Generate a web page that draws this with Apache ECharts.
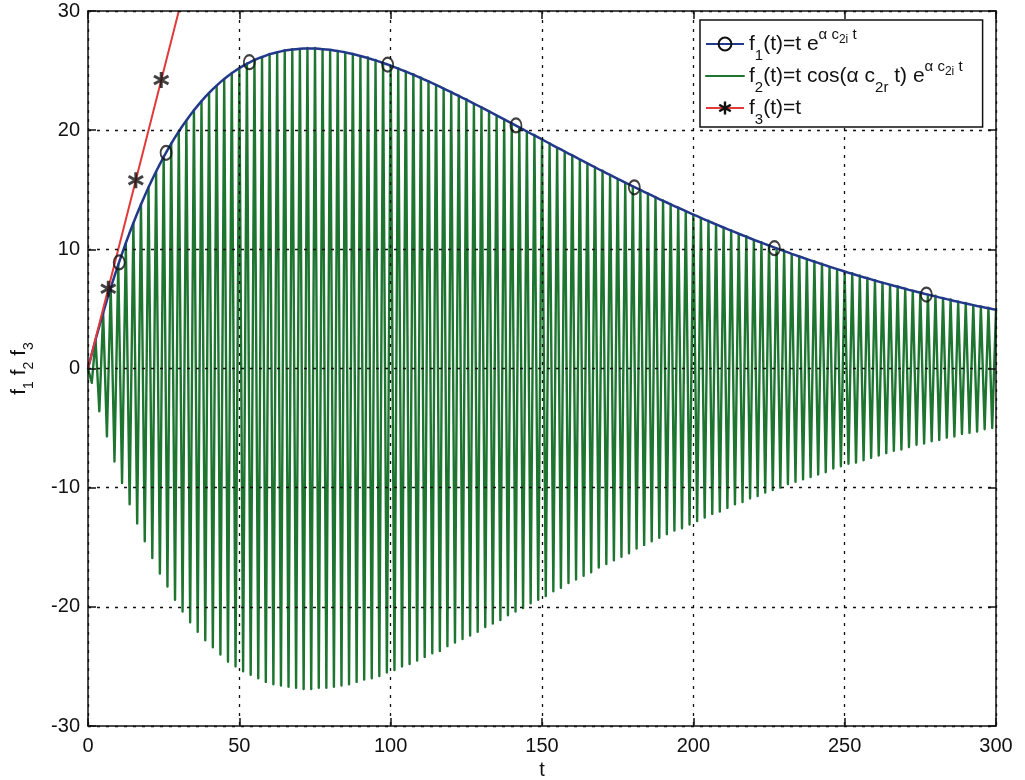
<!DOCTYPE html>
<html>
<head>
<meta charset="utf-8">
<title>f1, f2, f3 versus t</title>
<script src="https://cdn.jsdelivr.net/npm/echarts@6.0.0/dist/echarts.min.js"></script>
<style>
  html, body { margin: 0; padding: 0; background: #fff; }
  #chart { width: 1025px; height: 780px; }
</style>
</head>
<body>
<div id="chart"></div>
<script>
// Sampling step of the t grid used by the two traced curves.
const T_STEP = 1.25;

// f1(t): the decaying envelope, one value per grid step (t = 0 .. 300).
const envelopeValues = [
  0, 1.23, 2.42, 3.56, 4.67, 5.74, 6.77, 7.76, 8.72, 9.64,
  10.53, 11.39, 12.21, 13.01, 13.77, 14.50, 15.21, 15.88, 16.53, 17.15,
  17.75, 18.32, 18.87, 19.39, 19.89, 20.37, 20.82, 21.26, 21.67, 22.06,
  22.44, 22.79, 23.13, 23.44, 23.74, 24.03, 24.29, 24.55, 24.78, 25.00,
  25.21, 25.39, 25.57, 25.73, 25.89, 26.02, 26.14, 26.26, 26.38, 26.46,
  26.54, 26.61, 26.68, 26.73, 26.77, 26.80, 26.83, 26.85, 26.85, 26.85,
  26.85, 26.83, 26.80, 26.77, 26.74, 26.69, 26.64, 26.59, 26.53, 26.46,
  26.39, 26.31, 26.23, 26.14, 26.05, 25.95, 25.86, 25.75, 25.64, 25.53,
  25.41, 25.29, 25.17, 25.04, 24.92, 24.78, 24.65, 24.51, 24.38, 24.23,
  24.09, 23.94, 23.80, 23.65, 23.49, 23.34, 23.19, 23.03, 22.87, 22.71,
  22.56, 22.39, 22.23, 22.07, 21.91, 21.74, 21.57, 21.41, 21.24, 21.07,
  20.91, 20.74, 20.57, 20.40, 20.23, 20.06, 19.89, 19.72, 19.56, 19.39,
  19.22, 19.05, 18.88, 18.71, 18.54, 18.38, 18.21, 18.04, 17.88, 17.71,
  17.54, 17.38, 17.21, 17.05, 16.89, 16.72, 16.56, 16.40, 16.24, 16.08,
  15.92, 15.76, 15.60, 15.45, 15.29, 15.14, 14.98, 14.83, 14.67, 14.52,
  14.37, 14.22, 14.07, 13.93, 13.78, 13.63, 13.49, 13.35, 13.20, 13.06,
  12.92, 12.78, 12.64, 12.50, 12.36, 12.23, 12.10, 11.96, 11.83, 11.70,
  11.57, 11.44, 11.31, 11.18, 11.06, 10.93, 10.80, 10.68, 10.56, 10.44,
  10.32, 10.20, 10.08, 9.97, 9.85, 9.74, 9.62, 9.51, 9.40, 9.29,
  9.18, 9.07, 8.96, 8.86, 8.75, 8.65, 8.54, 8.44, 8.34, 8.24,
  8.14, 8.04, 7.95, 7.85, 7.75, 7.66, 7.57, 7.48, 7.38, 7.29,
  7.20, 7.12, 7.03, 6.94, 6.86, 6.77, 6.69, 6.60, 6.52, 6.44,
  6.36, 6.28, 6.20, 6.12, 6.05, 5.97, 5.90, 5.82, 5.75, 5.67,
  5.60, 5.53, 5.46, 5.39, 5.32, 5.25, 5.19, 5.12, 5.06, 4.99,
  4.93
];

// f2(t): successive crests and troughs of the fast oscillation, same t grid.
const oscillationValues = [
  0, -1.2, 2.4, -3.6, 4.7, -5.7, 6.8, -7.8, 8.7, -9.6,
  10.5, -11.4, 12.2, -13.0, 13.8, -14.5, 15.2, -15.9, 16.5, -17.2,
  17.8, -18.3, 18.9, -19.4, 19.9, -20.4, 20.8, -21.3, 21.7, -22.1,
  22.4, -22.8, 23.1, -23.4, 23.7, -24.0, 24.3, -24.6, 24.8, -25.0,
  25.2, -25.4, 25.6, -25.7, 25.9, -26.0, 26.1, -26.3, 26.4, -26.5,
  26.5, -26.6, 26.7, -26.7, 26.8, -26.8, 26.8, -26.9, 26.9, -26.9,
  26.9, -26.8, 26.8, -26.8, 26.7, -26.7, 26.6, -26.6, 26.5, -26.5,
  26.4, -26.3, 26.2, -26.1, 26.1, -26.0, 25.9, -25.8, 25.6, -25.5,
  25.4, -25.3, 25.2, -25.0, 24.9, -24.8, 24.7, -24.5, 24.4, -24.2,
  24.1, -23.9, 23.8, -23.7, 23.5, -23.3, 23.2, -23.0, 22.9, -22.7,
  22.6, -22.4, 22.2, -22.1, 21.9, -21.7, 21.6, -21.4, 21.2, -21.1,
  20.9, -20.7, 20.6, -20.4, 20.2, -20.1, 19.9, -19.7, 19.6, -19.4,
  19.2, -19.1, 18.9, -18.7, 18.5, -18.4, 18.2, -18.0, 17.9, -17.7,
  17.5, -17.4, 17.2, -17.1, 16.9, -16.7, 16.6, -16.4, 16.2, -16.1,
  15.9, -15.8, 15.6, -15.5, 15.3, -15.1, 15.0, -14.8, 14.7, -14.5,
  14.4, -14.2, 14.1, -13.9, 13.8, -13.6, 13.5, -13.4, 13.2, -13.1,
  12.9, -12.8, 12.6, -12.5, 12.4, -12.2, 12.1, -12.0, 11.8, -11.7,
  11.6, -11.4, 11.3, -11.2, 11.1, -10.9, 10.8, -10.7, 10.6, -10.4,
  10.3, -10.2, 10.1, -10.0, 9.9, -9.7, 9.6, -9.5, 9.4, -9.3,
  9.2, -9.1, 9.0, -8.9, 8.8, -8.7, 8.5, -8.4, 8.3, -8.2,
  8.1, -8.0, 8.0, -7.9, 7.8, -7.7, 7.6, -7.5, 7.4, -7.3,
  7.2, -7.1, 7.0, -6.9, 6.9, -6.8, 6.7, -6.6, 6.5, -6.4,
  6.4, -6.3, 6.2, -6.1, 6.1, -6.0, 5.9, -5.8, 5.8, -5.7,
  5.6, -5.5, 5.5, -5.4, 5.3, -5.3, 5.2, -5.1, 5.1, -5.0,
  4.9
];

// Marker positions on f1.
const envelopeMarkerT = [10.3, 25.8, 53.3, 99.0, 141.4, 180.5, 226.8, 277.0];
const envelopeMarkerV = [8.9, 18.1, 25.7, 25.5, 20.4, 15.2, 10.1, 6.2];

// f3(t) = t, and its markers.
const identityT = [0, 10, 20, 30];
const identityV = [0, 10, 20, 30];
const identityMarkerT = [6.7, 15.8, 24.2];
const identityMarkerV = [6.7, 15.8, 24.2];

// Axis ranges and tick spacing.
const tRange = [0, 300];
const tTickStep = 50;
const fRange = [-30, 30];
const fTickStep = 10;

// Legend wording (rich-text markup for sub- and superscripts).
const seriesNames = ['f1', 'f2', 'f3'];
const legendLabels = {
  f1: '{t|f}{sb|1}{t|(t)=t e}{sp|α c}{ss|2i}{sp| t}',
  f2: '{t|f}{sb|2}{t|(t)=t cos(α c}{sb|2r}{t| t) e}{sp|α c}{ss|2i}{sp| t}',
  f3: '{t|f}{sb|3}{t|(t)=t}'
};
const xAxisTitle = 't';
const yAxisTitle = '{f|f}{s|1}{f| f}{s|2}{f| f}{s|3}';

const FONT = '"Liberation Sans", Arial, Helvetica, sans-serif';
const INK = '#111';
// Six-armed asterisk marker.
const ASTERISK = 'path://M41,100 L59,100 L59,0 L41,0 Z M88.8,82.8 L97.8,67.2 L11.2,17.2 L2.2,32.8 Z M2.2,67.2 L11.2,82.8 L97.8,32.8 L88.8,17.2 Z';

const onGrid = vals => vals.map((v, i) => [i * T_STEP, v]);
const zip = (xs, ys) => xs.map((x, i) => [x, ys[i]]);

// Rich-text token: every token is top-aligned in a fixed-height line and
// shifted down by its top padding, so sub/superscripts sit where wanted.
const token = (size, lineHeight, top) => ({
  fontFamily: FONT, fontSize: size, color: INK, lineHeight: lineHeight,
  verticalAlign: 'top', padding: [top, 0, 0, 0]
});

const dottedGrid = { show: true, lineStyle: { color: INK, width: 1.3, type: [3, 6] } };
const frameLine = { show: true, onZero: false, lineStyle: { color: INK, width: 1.5 } };
const innerTick = { show: true, inside: true, length: 8, lineStyle: { color: INK, width: 1.5 } };
const tickLabel = { color: INK, fontFamily: FONT, fontSize: 20 };

const chart = echarts.init(document.getElementById('chart'), null, { renderer: 'canvas' });

chart.setOption({
  animation: false,
  backgroundColor: '#fff',
  grid: { left: 88, right: 29, top: 11, bottom: 54, outerBoundsMode: 'none', containLabel: false },
  xAxis: [
    {
      type: 'value', position: 'bottom', min: tRange[0], max: tRange[1], interval: tTickStep,
      axisLine: frameLine, axisTick: innerTick, splitLine: dottedGrid,
      axisLabel: Object.assign({ margin: 10 }, tickLabel),
      name: xAxisTitle, nameLocation: 'middle', nameGap: 32,
      nameTextStyle: { color: INK, fontFamily: FONT, fontSize: 20 },
      z: 5
    },
    {
      type: 'value', position: 'top', min: tRange[0], max: tRange[1], interval: tTickStep,
      axisLine: frameLine, axisTick: innerTick, splitLine: { show: false },
      axisLabel: { show: false }, z: 5
    }
  ],
  yAxis: [
    {
      type: 'value', position: 'left', min: fRange[0], max: fRange[1], interval: fTickStep,
      axisLine: frameLine, axisTick: innerTick, splitLine: dottedGrid,
      axisLabel: Object.assign({ margin: 8 }, tickLabel),
      name: yAxisTitle, nameLocation: 'middle', nameRotate: 90, nameGap: 52,
      nameTextStyle: {
        color: INK, fontFamily: FONT,
        rich: { f: token(21, 34, 6.5), s: token(14, 14, 20) }
      },
      z: 5
    },
    {
      type: 'value', position: 'right', min: fRange[0], max: fRange[1], interval: fTickStep,
      axisLine: frameLine, axisTick: innerTick, splitLine: { show: false },
      axisLabel: { show: false }, z: 5
    }
  ],
  legend: {
    orient: 'vertical', left: 700, top: 20,
    data: [
      { name: seriesNames[0] },
      { name: seriesNames[1], itemStyle: { opacity: 0 } },
      { name: seriesNames[2] }
    ],
    formatter: name => legendLabels[name],
    itemWidth: 38, itemHeight: 16, itemGap: -7,
    padding: [4, 20, 0, 5],
    backgroundColor: '#fff', borderColor: INK, borderWidth: 1.5, borderRadius: 0,
    selectedMode: false, z: 10,
    textStyle: {
      color: INK, fontFamily: FONT, fontSize: 21,
      rich: {
        t: token(21, 40, 9.5),
        sb: token(15, 15, 24),
        sp: token(15, 15, 3),
        ss: token(12, 12, 10)
      }
    }
  },
  series: [
    {
      name: seriesNames[1], type: 'line', data: onGrid(oscillationValues),
      symbol: 'none', showSymbol: false, silent: true, z: 2,
      lineStyle: { color: '#1d7530', width: 2.4, join: 'round', cap: 'round' },
      itemStyle: { color: '#1d7530' }
    },
    {
      name: seriesNames[0], type: 'line', data: onGrid(envelopeValues),
      symbol: 'circle', symbolSize: 12, showSymbol: false, silent: true, z: 3,
      lineStyle: { color: '#22398a', width: 2.5 },
      itemStyle: { color: 'rgba(0,0,0,0)', borderColor: INK, borderWidth: 1.8 }
    },
    {
      name: seriesNames[2], type: 'line', data: zip(identityT, identityV),
      symbol: ASTERISK, symbolSize: 15, showSymbol: false, silent: true, z: 4,
      lineStyle: { color: '#e23a3a', width: 2 },
      itemStyle: { color: INK }
    },
    {
      name: 'f1 markers', type: 'scatter', data: zip(envelopeMarkerT, envelopeMarkerV),
      symbol: 'circle', symbolSize: [11, 14], silent: true, z: 6,
      itemStyle: { color: 'rgba(0,0,0,0)', borderColor: INK, borderWidth: 2 }
    },
    {
      name: 'f3 markers', type: 'scatter', data: zip(identityMarkerT, identityMarkerV),
      symbol: ASTERISK, symbolSize: 16, silent: true, z: 6,
      itemStyle: { color: INK }
    }
  ]
});
</script>
</body>
</html>
